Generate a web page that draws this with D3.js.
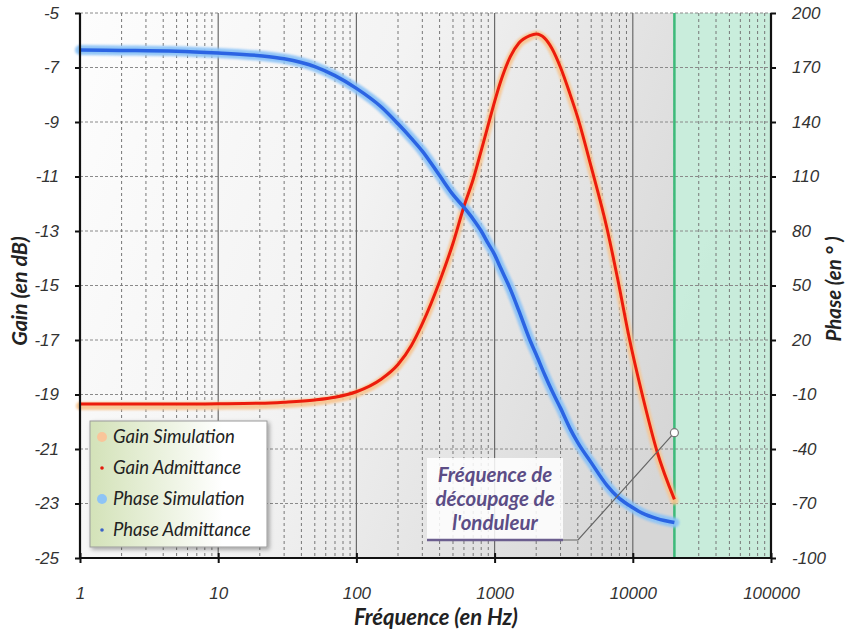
<!DOCTYPE html>
<html><head><meta charset="utf-8">
<script src="https://cdn.jsdelivr.net/npm/d3@7"></script>
<style>
body{margin:0;background:#fff;}
svg{display:block;font-family:Lato,'Open Sans','DejaVu Sans',sans-serif;}
</style>
</head><body>
<svg id="c" width="846" height="633"></svg>
<script>
// ---------- DATA ----------
const freqs = [1, 2, 5, 10, 20, 30, 50, 70, 100, 150, 200, 250, 300, 400, 500, 600, 700, 800, 900, 1000, 1100, 1300, 1500, 1800, 2000, 2300, 2600, 3000, 3500, 4000, 5000, 6500, 7800, 9400, 11700, 15000, 20000];
const gainAdmittance = [-19.35, -19.35, -19.35, -19.34, -19.32, -19.28, -19.2, -19.1, -18.9, -18.45, -17.9, -17.2, -16.4, -14.85, -13.45, -12.1, -11.1, -10.05, -9.1, -8.25, -7.55, -6.6, -6.1, -5.83, -5.77, -5.92, -6.3, -7.0, -7.95, -8.85, -10.65, -12.9, -14.8, -16.9, -19.0, -21.1, -22.85];
const gainSimulation = [-19.42, -19.42, -19.42, -19.41, -19.39, -19.35, -19.27, -19.16, -18.96, -18.5, -17.95, -17.25, -16.45, -14.9, -13.5, -12.15, -11.15, -10.1, -9.15, -8.3, -7.6, -6.65, -6.14, -5.87, -5.8, -5.95, -6.33, -7.05, -8.0, -8.9, -10.7, -12.95, -14.85, -16.95, -19.05, -21.15, -22.9];
const phaseAdmittance = [179.6, 179.4, 179, 178, 176.5, 174.8, 170.5, 165.5, 158.5, 148.5, 139, 131, 124, 110.5, 100, 93, 86.5, 80, 73, 67, 60, 48, 36, 20, 12, 1, -8, -17.5, -28.5, -36.5, -47.5, -60, -66.5, -71, -75.3, -78.3, -80.5];
const phaseSimulation = [179.6, 179.4, 179, 178, 176.5, 174.8, 170.5, 165.5, 158.5, 148.5, 139, 131, 124, 110.5, 100, 93, 86.5, 80, 73, 67, 60, 48, 36, 20, 12, 1, -8, -17.5, -28.5, -36.5, -47.5, -60, -66.5, -71, -75.3, -78.3, -80.5];
const gainTicks = [-25, -23, -21, -19, -17, -15, -13, -11, -9, -7, -5];
const phaseTicks = [-100, -70, -40, -10, 20, 50, 80, 110, 140, 170, 200];
const freqTicks = [1, 10, 100, 1000, 10000, 100000];
const switchingFreq = 20000;
const legendLabels = ["Gain Simulation", "Gain Admittance", "Phase Simulation", "Phase Admittance"];
const annotationLines = ["Fréquence de", "découpage de", "l'onduleur"];

// ---------- SETUP ----------
const svg = d3.select("#c");
const L = 80, R = 771, T = 13, B = 558;
const x = d3.scaleLog().domain([1, 100000]).range([L, R]);
const yG = d3.scaleLinear().domain([-25, -5]).range([B, T]);
const yP = d3.scaleLinear().domain([-100, 200]).range([B, T]);

const defs = svg.append("defs");
const bg = defs.append("linearGradient").attr("id", "bg").attr("x1", 0).attr("x2", 1).attr("y1", 0).attr("y2", 0.3);
bg.append("stop").attr("offset", "0%").attr("stop-color", "#fdfdfd");
bg.append("stop").attr("offset", "45%").attr("stop-color", "#f3f3f3");
bg.append("stop").attr("offset", "100%").attr("stop-color", "#d6d6d6");
const lg = defs.append("linearGradient").attr("id", "lg").attr("x1", 0).attr("x2", 1).attr("y1", 0).attr("y2", 0);
lg.append("stop").attr("offset", "0%").attr("stop-color", "#d3e2b8");
lg.append("stop").attr("offset", "75%").attr("stop-color", "#ffffff");
const blur = defs.append("filter").attr("id", "blur").attr("x", "-5%").attr("y", "-5%").attr("width", "110%").attr("height", "110%");
blur.append("feGaussianBlur").attr("stdDeviation", 1.3);
const sh = defs.append("filter").attr("id", "sh").attr("x", "-10%").attr("y", "-10%").attr("width", "130%").attr("height", "130%");
sh.append("feDropShadow").attr("dx", 2).attr("dy", 2).attr("stdDeviation", 2).attr("flood-color", "#000").attr("flood-opacity", 0.35);

// background
svg.append("rect").attr("x", L).attr("y", T).attr("width", R - L).attr("height", B - T).attr("fill", "url(#bg)");
// green switching zone
svg.append("rect").attr("x", x(switchingFreq)).attr("y", T).attr("width", x(100000) - x(switchingFreq)).attr("height", B - T)
  .attr("fill", "#c6eedb").attr("opacity", 0.9);

// grid
const grid = svg.append("g");
gainTicks.filter(d => d !== -25).forEach(d => {
  grid.append("line").attr("x1", L).attr("x2", R).attr("y1", yG(d)).attr("y2", yG(d))
    .attr("stroke", "#8a8a8a").attr("stroke-width", 1).attr("stroke-dasharray", "3,2");
});
[1, 10, 100, 1000, 10000].forEach(dec => {
  for (let k = 2; k <= 9; k++) {
    const xv = x(dec * k);
    grid.append("line").attr("x1", xv).attr("x2", xv).attr("y1", T).attr("y2", B)
      .attr("stroke", "#777").attr("stroke-width", 1).attr("stroke-dasharray", "3,3");
  }
  if (dec > 1) grid.append("line").attr("x1", x(dec)).attr("x2", x(dec)).attr("y1", T).attr("y2", B)
    .attr("stroke", "#6a6a6a").attr("stroke-width", 1.2);
});

// switching freq line
svg.append("line").attr("x1", x(switchingFreq)).attr("x2", x(switchingFreq)).attr("y1", T).attr("y2", B)
  .attr("stroke", "#3dba7a").attr("stroke-width", 2.5);

// curves
const gLine = d3.line().x((d, i) => x(freqs[i])).y(d => yG(d)).curve(d3.curveMonotoneX);
const pLine = d3.line().x((d, i) => x(freqs[i])).y(d => yP(d)).curve(d3.curveMonotoneX);
svg.append("path").attr("d", gLine(gainSimulation)).attr("fill", "none").attr("stroke", "#f8c48e")
  .attr("stroke-width", 8).attr("stroke-linecap", "round").attr("filter", "url(#blur)").attr("opacity", 0.9);
svg.append("path").attr("d", pLine(phaseSimulation)).attr("fill", "none").attr("stroke", "#8cc3f7")
  .attr("stroke-width", 10).attr("stroke-linecap", "round").attr("filter", "url(#blur)").attr("opacity", 0.95);
svg.append("path").attr("d", gLine(gainAdmittance)).attr("fill", "none").attr("stroke", "#ec1c0c")
  .attr("stroke-width", 3);
svg.append("path").attr("d", pLine(phaseAdmittance)).attr("fill", "none").attr("stroke", "#2b64e3")
  .attr("stroke-width", 3.5);

// axes
const tickFont = g => g.selectAll("text").attr("font-size", 17).attr("font-style", "italic").attr("fill", "#333");
const axL = svg.append("g").attr("transform", `translate(${L},0)`)
  .call(d3.axisLeft(yG).tickValues(gainTicks).tickFormat(d => String(d)).tickSize(5).tickPadding(16))
  .call(tickFont);
const axR = svg.append("g").attr("transform", `translate(${R},0)`)
  .call(d3.axisRight(yP).tickValues(phaseTicks).tickFormat(d => String(d)).tickSize(5).tickPadding(16))
  .call(tickFont);
const axB = svg.append("g").attr("transform", `translate(0,${B})`)
  .call(d3.axisBottom(x).tickValues(freqTicks).tickFormat(d => String(d)).tickSize(5).tickPadding(24))
  .call(tickFont);
axB.selectAll(".tick line").attr("y1", -5).attr("y2", 5);
[axL, axR, axB].forEach(a => {
  a.select(".domain").attr("stroke", "#111").attr("stroke-width", 2.2);
  a.selectAll(".tick line").attr("stroke", "#111").attr("stroke-width", 2);
});
axL.select(".domain").attr("d", `M0,${T}V${B}`);
axR.select(".domain").attr("d", `M0,${T}V${B}`);
axB.select(".domain").attr("d", `M${L},0H${R}`);

// titles
svg.append("text").attr("x", 436).attr("y", 625).attr("text-anchor", "middle")
  .attr("font-size", 22).attr("font-weight", "bold").attr("font-style", "italic").attr("fill", "#222")
  .text("Fréquence (en Hz)");
svg.append("text").attr("transform", `translate(27,291) rotate(-90)`).attr("text-anchor", "middle")
  .attr("font-size", 21.5).attr("font-weight", "bold").attr("font-style", "italic").attr("fill", "#222")
  .text("Gain (en dB)");
svg.append("text").attr("transform", `translate(841,289) rotate(-90)`).attr("text-anchor", "middle")
  .attr("font-size", 20.5).attr("font-weight", "bold").attr("font-style", "italic").attr("fill", "#222")
  .text("Phase (en ° )");

// legend
const lgG = svg.append("g").attr("transform", "translate(90,421)");
lgG.append("rect").attr("width", 177).attr("height", 126).attr("fill", "url(#lg)")
  .attr("stroke", "#9a9a9a").attr("stroke-width", 1).attr("filter", "url(#sh)");
const markers = [
  {r: 5, c: "#f9c59a"}, {r: 1.8, c: "#e41a0c"}, {r: 5, c: "#8ec4f6"}, {r: 1.8, c: "#3a62c8"}
];
legendLabels.forEach((t, i) => {
  const cy = 16 + i * 31;
  lgG.append("circle").attr("cx", 12).attr("cy", cy).attr("r", markers[i].r).attr("fill", markers[i].c);
  lgG.append("text").attr("x", 23).attr("y", cy + 6).attr("font-size", 18.5).attr("font-style", "italic")
    .attr("fill", "#222").text(t);
});

// annotation
const ax0 = x(switchingFreq), ay0 = yG(-20.4);
svg.append("rect").attr("x", 427).attr("y", 458).attr("width", 136).attr("height", 82)
  .attr("fill", "#ffffff").attr("opacity", 0.85);
svg.append("polyline").attr("points", `${ax0},${ay0} 578,540 560,540`).attr("fill", "none")
  .attr("stroke", "#666").attr("stroke-width", 1.2);
svg.append("line").attr("x1", 427).attr("x2", 563).attr("y1", 540).attr("y2", 540)
  .attr("stroke", "#6b5e8e").attr("stroke-width", 2.5);
svg.append("circle").attr("cx", ax0).attr("cy", ay0).attr("r", 4).attr("fill", "#fff").attr("stroke", "#777").attr("stroke-width", 1.2);
annotationLines.forEach((t, i) => {
  svg.append("text").attr("x", 495).attr("y", 482 + i * 24).attr("text-anchor", "middle")
    .attr("font-size", 20.5).attr("font-weight", "bold").attr("font-style", "italic").attr("fill", "#5c4d86").text(t);
});
</script>
</body></html>
